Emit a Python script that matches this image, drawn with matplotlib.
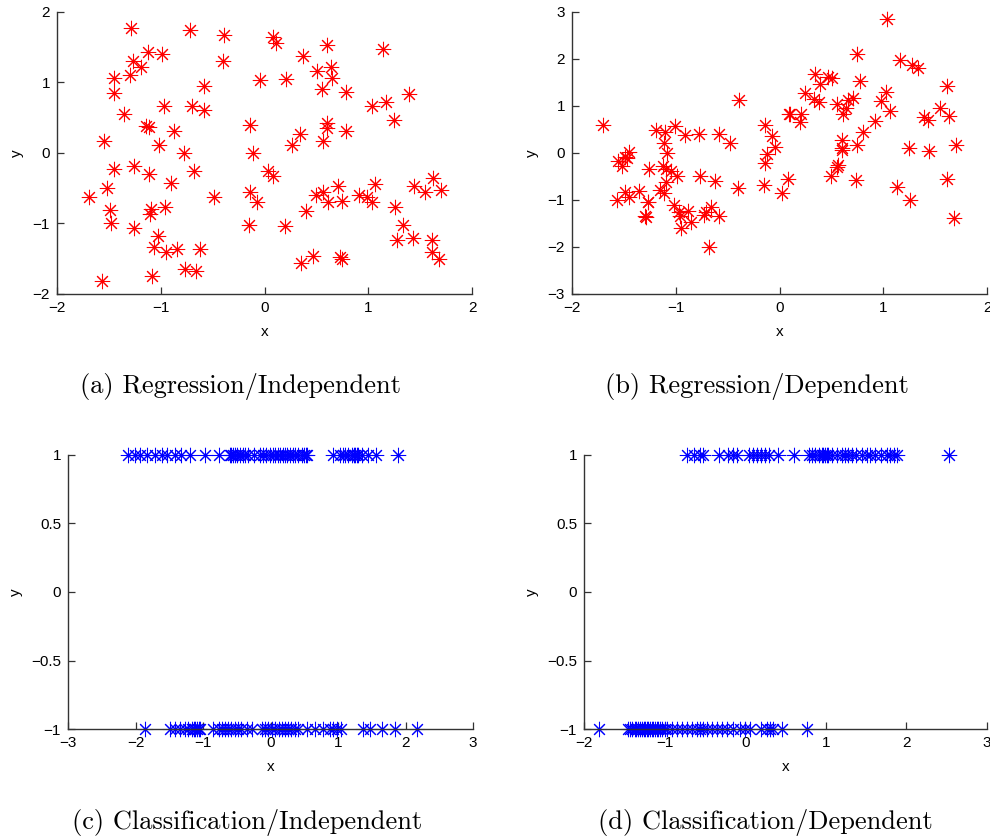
import numpy as np
import matplotlib
matplotlib.use("Agg")
import matplotlib.pyplot as plt

# ======================
# DATA
# ======================
# (a) regression / independent
reg_ind_x = [-1.29, -0.72, -0.39, -1.12, -0.99, -1.27, -1.19, -0.40, -1.45, -1.30,
             -0.045, -0.58, -1.45, -0.97, -0.70, -0.58, -1.35, -1.14, -1.11, -0.87,
             -0.14, -1.55, -1.02, -0.78, -0.11, -1.45, -1.26, -1.11, -0.68, 0.03,
             -0.90, -1.52, -1.69, -0.49, -0.14, -0.07, -1.49, -1.09, -0.96, -1.10,
             -1.48, -0.15, -1.26, -1.03, -1.07, -0.95, -0.84, -0.62, -0.77, -0.66,
             -1.08, -1.57,
             0.08, 0.11, 0.60, 1.14, 0.37, 0.51, 0.64, 0.65, 0.21, 0.55,
             0.79, 1.04, 1.17, 1.39, 1.25, 0.60, 0.60, 0.34, 0.56, 0.79,
             0.26, 0.08, 0.50, 0.56, 0.61, 0.71, 0.75, 0.40, 0.20, 0.91,
             0.99, 1.04, 1.06, 1.26, 1.44, 1.62, 1.55, 1.70, 1.33, 1.28,
             1.43, 1.61, 1.61, 1.68, 0.47, 0.35, 0.73, 0.75]
reg_ind_y = [1.77, 1.74, 1.68, 1.43, 1.40, 1.30, 1.22, 1.30, 1.06, 1.11,
             1.04, 0.95, 0.85, 0.67, 0.67, 0.61, 0.56, 0.38, 0.37, 0.31,
             0.39, 0.17, 0.11, 0.00, 0.00, -0.23, -0.18, -0.30, -0.26, -0.26,
             -0.43, -0.49, -0.63, -0.63, -0.56, -0.70, -0.81, -0.80, -0.77, -0.87,
             -0.99, -1.02, -1.07, -1.18, -1.34, -1.41, -1.36, -1.36, -1.64, -1.68,
             -1.75, -1.82,
             1.65, 1.56, 1.53, 1.48, 1.38, 1.16, 1.22, 1.07, 1.05, 0.91,
             0.86, 0.67, 0.73, 0.83, 0.47, 0.43, 0.36, 0.27, 0.17, 0.31,
             0.11, -0.32, -0.59, -0.56, -0.69, -0.47, -0.68, -0.82, -1.03, -0.60,
             -0.63, -0.69, -0.44, -0.76, -0.47, -0.35, -0.56, -0.52, -1.02, -1.24,
             -1.20, -1.23, -1.40, -1.51, -1.46, -1.56, -1.48, -1.51]

# (b) regression / dependent
reg_dep_x = [-1.70, -0.39, -0.14, -1.19, -1.10, -1.01, -0.91, -0.78, -0.58, -0.48,
             -1.11, -1.08, -1.45, -1.49, -1.56, -1.52, -1.47, -1.26, -1.12, -1.09,
             -0.99, -0.77, -0.62, -0.40, -0.15, -0.14, -1.09, -1.15, -1.11, -1.35,
             -1.49, -1.45, -1.57, -1.27, -1.27, -1.02, -1.30, -1.29, -0.97, -0.96,
             -0.88, -0.85, -0.95, -0.73, -0.71, -0.66, -0.58, -0.68, -1.05,
             1.04, 0.75, 1.16, 1.28, 1.33, 0.34, 0.47, 0.51, 0.39, 0.78,
             1.61, 0.25, 0.33, 0.38, 0.55, 0.66, 0.71, 0.64, 0.61, 1.03,
             0.98, 1.06, 0.92, 1.55, 1.63, 1.39, 1.43, 0.09, 0.10, 0.21,
             0.20, -0.07, -0.04, -0.12, 0.08, 0.02, 0.60, 0.60, 0.60, 0.75,
             0.80, 0.56, 0.55, 0.50, 0.74, 1.25, 1.44, 1.70, 1.13, 1.26,
             1.61, 1.68]
reg_dep_y = [0.60, 1.13, 0.60, 0.49, 0.45, 0.57, 0.38, 0.40, 0.40, 0.21,
             0.22, 0.00, 0.03, -0.08, -0.18, -0.27, -0.11, -0.34, -0.27, -0.34,
             -0.49, -0.50, -0.59, -0.74, -0.68, -0.22, -0.61, -0.79, -0.86, -0.81,
             -0.82, -0.93, -0.99, -1.04, -1.05, -1.11, -1.34, -1.37, -1.25, -1.34,
             -1.23, -1.46, -1.60, -1.32, -1.25, -1.14, -1.34, -2.01, -0.38,
             2.85, 2.10, 1.98, 1.87, 1.80, 1.68, 1.62, 1.59, 1.46, 1.53,
             1.43, 1.28, 1.14, 1.09, 1.04, 1.13, 1.16, 0.95, 0.84, 1.29,
             1.11, 0.90, 0.69, 0.96, 0.79, 0.77, 0.70, 0.84, 0.82, 0.82,
             0.65, 0.36, 0.13, -0.02, -0.56, -0.86, 0.28, 0.10, 0.06, 0.17,
             0.45, -0.26, -0.29, -0.50, -0.57, 0.10, 0.05, 0.17, -0.72, -1.00,
             -0.55, -1.38]

# (c) classification / independent: x positions of the +1 and -1 classes
cls_ind_pos = [-2.11, -2.01, -1.93, -1.83, -1.71, -1.61, -1.53, -1.41, -1.32, -1.19,
               -0.97, -0.77, -0.60, -0.58, -0.55, -0.52, -0.50, -0.45, -0.41, -0.38,
               -0.33, -0.25, -0.16, -0.11, -0.06, -0.01, 0.03, 0.07, 0.11, 0.14,
               0.19, 0.22, 0.24, 0.29, 0.34, 0.37, 0.41, 0.46, 0.49, 0.52, 0.54,
               0.93, 1.03, 1.08, 1.11, 1.15, 1.20, 1.23, 1.25, 1.28, 1.30,
               1.35, 1.45, 1.57, 1.89]
cls_ind_neg = [-1.86, -1.49, -1.41, -1.34, -1.27, -1.22, -1.17, -1.14, -1.12, -1.09,
               -1.06, -1.04, -0.85, -0.77, -0.72, -0.67, -0.63, -0.58, -0.53, -0.48,
               -0.43, -0.35, -0.28, -0.13, -0.08, -0.03, 0.02, 0.07, 0.12, 0.17,
               0.21, 0.26, 0.31, 0.36, 0.41, 0.54, 0.66, 0.78, 0.88, 0.93,
               0.98, 1.05, 1.37, 1.47, 1.65, 1.84, 2.17]

# (d) classification / dependent
cls_dep_pos = [-0.72, -0.64, -0.56, -0.52, -0.32, -0.21, -0.15, -0.10, 0.05, 0.10,
               0.15, 0.19, 0.24, 0.29, 0.41, 0.60, 0.79, 0.83, 0.87, 0.91,
               0.95, 0.97, 0.99, 1.01, 1.03, 1.08, 1.14, 1.20, 1.24, 1.28,
               1.33, 1.37, 1.45, 1.51, 1.55, 1.61, 1.68, 1.76, 1.80, 1.84,
               1.88, 2.53]
cls_dep_neg = [-1.81, -1.45, -1.43, -1.41, -1.37, -1.35, -1.33, -1.30, -1.28, -1.26,
               -1.24, -1.22, -1.20, -1.18, -1.16, -1.14, -1.12, -1.10, -1.08, -1.06,
               -1.03, -1.00, -0.97, -0.91, -0.85, -0.79, -0.72, -0.66, -0.60, -0.56,
               -0.52, -0.48, -0.41, -0.35, -0.29, -0.23, -0.15, -0.06, 0.00, 0.06,
               0.19, 0.27, 0.31, 0.35, 0.46, 0.77]

captions = ["(a) Regression/Independent", "(b) Regression/Dependent",
            "(c) Classification/Independent", "(d) Classification/Dependent"]

# ======================
# STYLE
# ======================
plt.rcParams["font.family"] = ["Liberation Sans", "DejaVu Sans"]
plt.rcParams["font.size"] = 10
STAR = (8, 2, 0)


def style_axes(ax, xticks, yticks, ylabels=None):
    for side in ["top", "right"]:
        ax.spines[side].set_visible(False)
    for side in ["left", "bottom"]:
        ax.spines[side].set_color("#333333")
        ax.spines[side].set_linewidth(1.0)
    ax.set_xlim(xticks[0], xticks[-1])
    ax.set_ylim(yticks[0], yticks[-1])
    ax.set_xticks(xticks)
    ax.set_yticks(yticks)
    if ylabels is not None:
        ax.set_yticklabels(ylabels)
    ax.tick_params(direction="in", length=5, width=0.9, colors="#333333",
                   labelcolor="black", labelsize=11, pad=5)
    ax.set_xlabel("x", fontsize=11, labelpad=7)
    ax.set_ylabel("y", fontsize=11, labelpad=6)


fig = plt.figure(figsize=(9.9, 8.39), dpi=100)

ax_a = fig.add_axes([0.0576, 0.6496, 0.4192, 0.3361])
ax_b = fig.add_axes([0.5778, 0.6496, 0.4192, 0.3361])
ax_c = fig.add_axes([0.0687, 0.1311, 0.4091, 0.3266])
ax_d = fig.add_axes([0.5899, 0.1311, 0.4071, 0.3266])

kw_red = dict(linestyle="none", marker=STAR, markersize=11, markeredgewidth=0.75,
              color="red", clip_on=False)
kw_blue = dict(linestyle="none", marker=STAR, markersize=11, markeredgewidth=0.75,
               color="blue", clip_on=False)

ax_a.plot(reg_ind_x, reg_ind_y, **kw_red)
style_axes(ax_a, [-2, -1, 0, 1, 2], [-2, -1, 0, 1, 2])

ax_b.plot(reg_dep_x, reg_dep_y, **kw_red)
style_axes(ax_b, [-2, -1, 0, 1, 2], [-3, -2, -1, 0, 1, 2, 3])

cls_ticks = [-1, -0.5, 0, 0.5, 1]
cls_labels = ["\u22121", "\u22120.5", "0", "0.5", "1"]

ax_c.plot(cls_ind_pos, np.ones(len(cls_ind_pos)), **kw_blue)
ax_c.plot(cls_ind_neg, -np.ones(len(cls_ind_neg)), **kw_blue)
style_axes(ax_c, [-3, -2, -1, 0, 1, 2, 3], cls_ticks, cls_labels)

ax_d.plot(cls_dep_pos, np.ones(len(cls_dep_pos)), **kw_blue)
ax_d.plot(cls_dep_neg, -np.ones(len(cls_dep_neg)), **kw_blue)
style_axes(ax_d, [-2, -1, 0, 1, 2, 3], cls_ticks, cls_labels)

# captions in a Computer Modern face
cap_pos = [(241, 387), (757, 387), (247, 823), (765, 823)]
for (px, py), text in zip(cap_pos, captions):
    fig.text(px / 990, 1 - py / 839, text, fontfamily="cmr10", fontsize=19,
             ha="center", va="center")

fig.savefig("out.png", dpi=100)
